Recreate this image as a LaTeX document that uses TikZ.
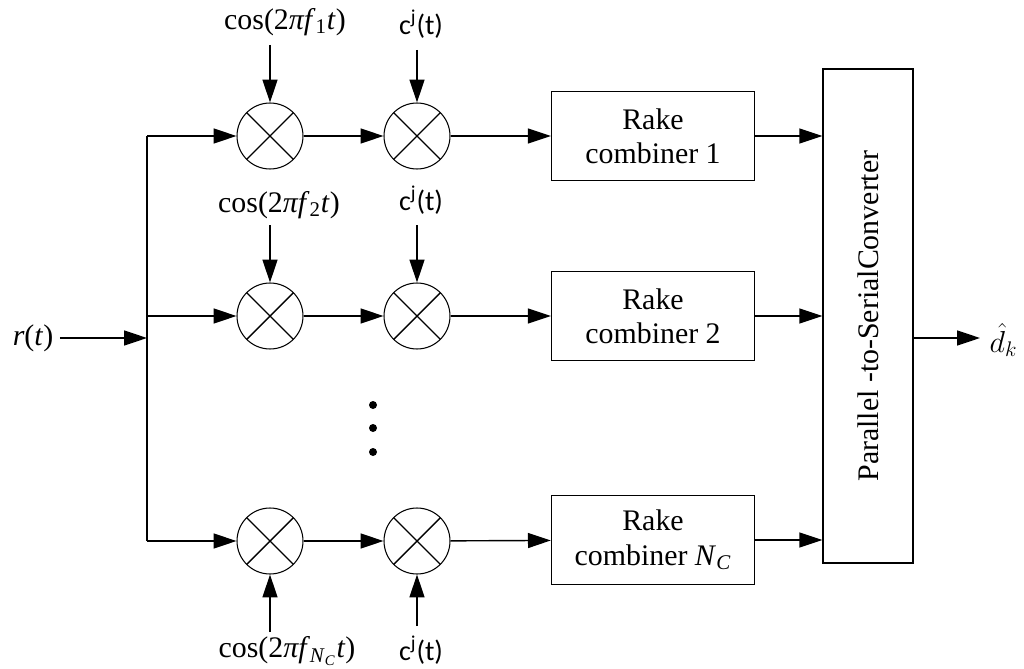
\documentclass[tikz,border=0pt]{standalone}
\usepackage{fontspec}
\setmainfont{Liberation Serif}
\newfontfamily\califont{Carlito}
\usetikzlibrary{arrows.meta,positioning}

\begin{document}
\begin{tikzpicture}[x=0.02cm,y=-0.02cm,
    line width=0.8pt,
    >={Triangle[length=13pt,width=8.5pt]},
    mixer/.style={circle,draw,line width=0.6pt,minimum size=1.32cm,inner sep=0pt,
        path picture={\draw[line width=0.8pt]
            (path picture bounding box.north west) -- (path picture bounding box.south east)
            (path picture bounding box.south west) -- (path picture bounding box.north east);}},
    rakebox/.style={draw,minimum width=4.06cm,minimum height=1.78cm,align=center,
        font=\fontsize{17}{19.5}\selectfont},
    lbl/.style={font=\fontsize{17}{20}\selectfont},
    codelbl/.style={font=\califont\fontsize{16}{18}\selectfont}]
    %% frame
    \useasboundingbox (0,0) rectangle (1024,669);
    %% input
    \node[lbl] (rt) at (33,338) {\textit{r}(\textit{t})};
    \coordinate (split) at (147,338);
    \coordinate (top) at (147,136);
    \coordinate (mid) at (147,316);
    \coordinate (bot) at (147,541);
    \draw[->] (rt.east) -- (split);
    \draw (top) -- (bot);
    %% mixers
    \node[mixer] (mixa) at (270,136) {};
    \node[mixer] (mixb) at (270,316) {};
    \node[mixer] (mixc) at (270,541) {};
    \node[mixer] (coda) at (417,136) {};
    \node[mixer] (codb) at (417,316) {};
    \node[mixer] (codc) at (417,541) {};
    %% carriers and codes
    \node[lbl] (cosa) at (285,22) {cos(2\textit{πf}\textsubscript{1}\textit{t})};
    \node[lbl] (cosb) at (279,205) {cos(2\textit{πf}\textsubscript{2}\textit{t})};
    \node[lbl] (cosc) at (287,651) {cos(2\textit{πf}\textsubscript{\textit{N}\textsubscript{\textit{C}}}\textit{t})};
    \node[codelbl] (ca) at (421,24) {c\textsuperscript{j}(t)};
    \node[codelbl] (cb) at (421,200) {c\textsuperscript{j}(t)};
    \node[codelbl] (cc) at (421,650) {c\textsuperscript{j}(t)};
    \coordinate (cosa-in) at (270,45);
    \coordinate (cosb-in) at (270,225);
    \coordinate (cosc-in) at (270,632);
    \coordinate (ca-in) at (417,50);
    \coordinate (cb-in) at (417,225);
    \coordinate (cc-in) at (417,626);
    \draw[->] (cosa-in) -- (mixa);
    \draw[->] (cosb-in) -- (mixb);
    \draw[->] (cosc-in) -- (mixc);
    \draw[->] (ca-in) -- (coda);
    \draw[->] (cb-in) -- (codb);
    \draw[->] (cc-in) -- (codc);
    %% rake combiners
    \node[rakebox] (rakea) at (653,136) {Rake\\combiner 1};
    \node[rakebox] (rakeb) at (653,316) {Rake\\combiner 2};
    \node[rakebox] (rakec) at (653,540) {Rake\\combiner \textit{N}\textsubscript{\textit{C}}};
    %% parallel to serial
    \node[draw,minimum width=1.8cm,minimum height=9.88cm] (ps) at (868,316) {};
    \node[lbl,rotate=90] (pstext) at (ps.center) {Parallel -to-SerialConverter};
    \coordinate (out) at (980,338);
    \node[lbl,anchor=west] (dk) at (983,340) {$\hat{d}_k$};
    %% branches
    \draw[->] (top) -- (mixa);
    \draw[->] (mid) -- (mixb);
    \draw[->] (bot) -- (mixc);
    \draw[->] (mixa) -- (coda);
    \draw[->] (mixb) -- (codb);
    \draw[->] (mixc) -- (codc);
    \draw[->] (coda) -- (rakea);
    \draw[->] (codb) -- (rakeb);
    \draw[->] (codc) -- (rakec);
    \draw[->] (rakea.east) -- (rakea.east -| ps.west);
    \draw[->] (rakeb.east) -- (rakeb.east -| ps.west);
    \draw[->] (rakec.east) -- (rakec.east -| ps.west);
    \draw[->] (ps.east |- out) -- (out);
    %% dots
    \foreach \y in {405,428,452}
        \fill (373,\y) circle (4);
\end{tikzpicture}
\end{document}
